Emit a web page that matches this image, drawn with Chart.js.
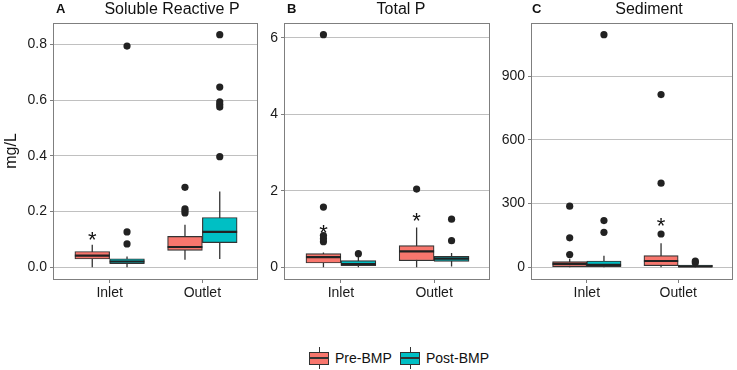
<!DOCTYPE html>
<html lang="en">
<head>
<meta charset="UTF-8">
<script src="https://cdn.jsdelivr.net/npm/chart.js"></script>
<title>boxplots</title>
<style>
body { margin: 0; background: #fff; font-family: Arial, "Liberation Sans", sans-serif; }
#wrap { position: relative; width: 737px; height: 370px; overflow: hidden; }
canvas { position: absolute; top: 0; }
.tag { position: absolute; top: 2px; font-size: 13px; line-height: 13px; font-weight: bold; color: #111; }
.title { position: absolute; top: 1px; font-size: 16px; line-height: 16px; color: #111; white-space: nowrap; transform: translateX(-50%); }
.key { position: absolute; top: 347px; width: 20px; height: 22px; }
.key .w { position: absolute; left: 9.5px; top: 0; width: 1px; height: 22px; background: #333; }
.key .b { position: absolute; left: 0; top: 5px; width: 20px; height: 13px; box-sizing: border-box; border: 1px solid #333; }
.key .m { position: absolute; left: 0; top: 10px; width: 20px; height: 2px; background: #333; }
.ktxt { position: absolute; top: 350px; font-size: 14px; line-height: 16px; color: #111; }
</style>
</head>
<body>
<div id="wrap">
    <canvas id="chartA" width="262" height="305" style="left:0px"></canvas>
    <canvas id="chartB" width="232" height="305" style="left:262px"></canvas>
    <canvas id="chartC" width="243" height="305" style="left:494px"></canvas>

    <div class="tag" style="left:56px">A</div>
    <div class="title" style="left:172px">Soluble Reactive P</div>
    <div class="tag" style="left:287px">B</div>
    <div class="title" style="left:401px">Total P</div>
    <div class="tag" style="left:532px">C</div>
    <div class="title" style="left:649px">Sediment</div>

    <div class="key" style="left:309px"><div class="w"></div><div class="b" style="background:#F8766D"></div><div class="m"></div></div>
    <div class="ktxt" style="left:335px">Pre-BMP</div>
    <div class="key" style="left:400px"><div class="w"></div><div class="b" style="background:#00BFC4"></div><div class="m"></div></div>
    <div class="ktxt" style="left:426px">Post-BMP</div>
</div>

<script>
    const groups = ['Inlet', 'Outlet'];

    // box stats per group: [lower whisker, Q1, median, Q3, upper whisker]
    const srpPre = [[0, 0.030, 0.042, 0.057, 0.081], [0.027, 0.061, 0.073, 0.111, 0.153]];
    const srpPost = [[0, 0.013, 0.021, 0.031, 0.039], [0.030, 0.089, 0.127, 0.179, 0.272]];
    const srpPreOut = [[], [0.195, 0.203, 0.21, 0.287]];
    const srpPostOut = [[0.084, 0.127, 0.794], [0.397, 0.575, 0.584, 0.594, 0.647, 0.835]];
    const srpStar = [0.117, null];
    const srpTicks = [0, 0.2, 0.4, 0.6, 0.8];
    const srpTickLabels = ['0.0', '0.2', '0.4', '0.6', '0.8'];

    const tpPre = [[0, 0.114, 0.27, 0.357, 0.39], [0, 0.175, 0.418, 0.566, 1.04]];
    const tpPost = [[0, 0.044, 0.088, 0.175, 0.30], [0.02, 0.157, 0.227, 0.287, 0.375]];
    const tpPreOut = [[0.67, 0.75, 0.83, 1.575, 6.08], [2.045]];
    const tpPostOut = [[0.357], [0.697, 1.26]];
    const tpStar = [1.03, 1.33];
    const tpTicks = [0, 2, 4, 6];
    const tpTickLabels = ['0', '2', '4', '6'];

    const sedPre = [[0, 3, 16, 27, 40], [0, 8, 30, 55, 113]];
    const sedPost = [[0, 3, 12, 30, 55], [0, 2, 5, 11, 20]];
    const sedPreOut = [[60, 139, 288], [157, 396, 813]];
    const sedPostOut = [[165, 220, 1095], [22, 30]];
    const sedStar = [null, 217];
    const sedTicks = [0, 300, 600, 900];
    const sedTickLabels = ['0', '300', '600', '900'];

    const preColor = '#F8766D';
    const postColor = '#00BFC4';
    const dodge = 0.1875;

    // panel border + asterisks
    const deco = {
        id: 'deco',
        afterDatasetsDraw(chart) {
            const ctx = chart.ctx;
            ctx.save();
            ctx.fillStyle = '#111';
            ctx.font = '22px Arial, "Liberation Sans", sans-serif';
            ctx.textAlign = 'center';
            ctx.textBaseline = 'alphabetic';
            chart.data.datasets.forEach((ds, i) => {
                if (!ds.stars) return;
                chart.getDatasetMeta(i).data.forEach(pt => {
                    if (!pt.skip && isFinite(pt.y)) ctx.fillText('*', pt.x, pt.y + 12);
                });
            });
            ctx.restore();
        },
        afterDraw(chart) {
            const a = chart.chartArea, ctx = chart.ctx;
            ctx.save();
            ctx.strokeStyle = '#7f7f7f';
            ctx.lineWidth = 1;
            ctx.strokeRect(Math.round(a.left) - 0.5, Math.round(a.top) + 0.5,
                Math.round(a.right - a.left), Math.round(a.bottom - a.top));
            ctx.restore();
        }
    };

    function boxSets(stats, outs, dx, color) {
        const box = {
            type: 'bar',
            data: stats.map((s, i) => ({ x: i + 1 + dx, y: [s[1], s[3]] })),
            backgroundColor: color,
            borderColor: '#333',
            borderWidth: 1.2,
            borderSkipped: false,
            grouped: false,
            categoryPercentage: 1,
            barPercentage: 1,
            order: 2
        };
        const whisk = [];
        const med = [];
        stats.forEach((s, i) => {
            const x = i + 1 + dx;
            whisk.push({ x: x, y: s[0] }, { x: x, y: s[4] }, { x: x, y: null });
            med.push({ x: x - dodge, y: s[2] }, { x: x + dodge, y: s[2] }, { x: x, y: null });
        });
        const whiskers = {
            type: 'line', data: whisk, borderColor: '#333', borderWidth: 1.3,
            pointRadius: 0, spanGaps: false, order: 3
        };
        const medians = {
            type: 'line', data: med, borderColor: '#222', borderWidth: 2.2,
            pointRadius: 0, spanGaps: false, order: 1
        };
        const pts = [];
        outs.forEach((list, i) => list.forEach(v => pts.push({ x: i + 1 + dx, y: v })));
        const outliers = {
            type: 'scatter', data: pts, pointRadius: 3.6, pointBackgroundColor: '#222',
            pointBorderWidth: 0, order: 0
        };
        return [whiskers, box, medians, outliers];
    }

    function makePanel(id, pre, post, preOut, postOut, stars, ticks, tickLabels, axisW, yTitle) {
        let hi = 0;
        [pre, post].forEach(st => st.forEach(s => hi = Math.max(hi, s[4])));
        [preOut, postOut].forEach(o => o.forEach(l => l.forEach(v => hi = Math.max(hi, v))));
        const lo = 0;
        const pad = (hi - lo) * 0.05;

        const datasets = [
            ...boxSets(pre, preOut, -dodge, preColor),
            ...boxSets(post, postOut, dodge, postColor),
            {
                type: 'scatter', stars: true,
                data: stars.map((v, i) => ({ x: i + 1 - dodge, y: v })),
                pointRadius: 0, order: 0
            }
        ];

        new Chart(document.getElementById(id), {
            type: 'bar',
            data: { datasets: datasets },
            plugins: [deco],
            options: {
                responsive: false,
                animation: false,
                events: [],
                layout: { padding: { top: 23, right: id === 'chartA' ? 4 : 2, left: 0, bottom: 0 } },
                plugins: { legend: { display: false }, tooltip: { enabled: false } },
                scales: {
                    x: {
                        type: 'linear', min: 0.4, max: 2.6, offset: false,
                        afterBuildTicks: s => { s.ticks = groups.map((g, i) => ({ value: i + 1 })); },
                        afterFit: s => { s.height = 26; },
                        grid: { offset: false, drawOnChartArea: false, tickLength: 4, color: '#7f7f7f' },
                        border: { display: false },
                        ticks: {
                            padding: 2, color: '#1a1a1a', maxRotation: 0,
                            font: { size: 14, family: 'Arial, "Liberation Sans", sans-serif' },
                            callback: v => groups[Math.round(v) - 1]
                        }
                    },
                    y: {
                        type: 'linear', min: lo - pad, max: hi + pad, beginAtZero: false,
                        afterBuildTicks: s => { s.ticks = ticks.map(v => ({ value: v })); },
                        afterFit: s => { s.width = axisW; },
                        grid: { color: '#c0c0c0', tickColor: '#7f7f7f', tickLength: 4, lineWidth: 1 },
                        border: { display: false },
                        title: {
                            display: !!yTitle, text: yTitle || '', color: '#111',
                            font: { size: 16, family: 'Arial, "Liberation Sans", sans-serif' },
                            padding: { top: 2, bottom: 0 }
                        },
                        ticks: {
                            padding: 3, color: '#1a1a1a',
                            font: { size: 14, family: 'Arial, "Liberation Sans", sans-serif' },
                            callback: (v, i) => tickLabels[i]
                        }
                    }
                }
            }
        });
    }

    makePanel('chartA', srpPre, srpPost, srpPreOut, srpPostOut, srpStar, srpTicks, srpTickLabels, 54, 'mg/L');
    makePanel('chartB', tpPre, tpPost, tpPreOut, tpPostOut, tpStar, tpTicks, tpTickLabels, 23, '');
    makePanel('chartC', sedPre, sedPost, sedPreOut, sedPostOut, sedStar, sedTicks, sedTickLabels, 38, '');
</script>
</body>
</html>
